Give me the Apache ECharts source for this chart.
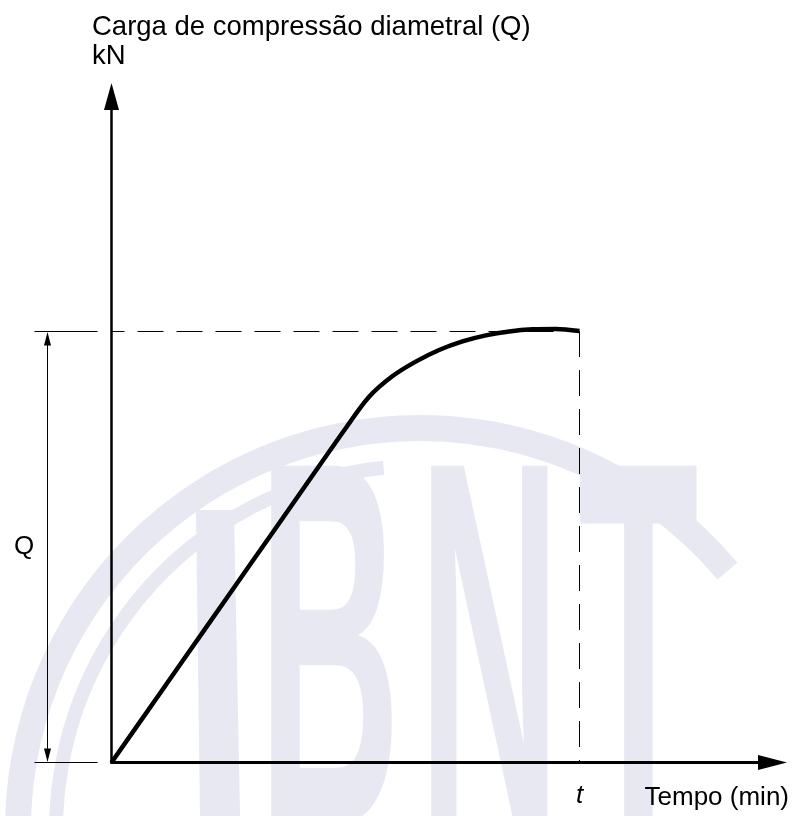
<!DOCTYPE html>
<html>
<head>
<meta charset="utf-8">
<script src="https://cdn.jsdelivr.net/npm/echarts@6/dist/echarts.min.js"></script>
<style>
html,body{margin:0;padding:0;background:#ffffff;}
#c{width:797px;height:816px;}
</style>
</head>
<body>
<div id="c"></div>
<script>
// ---- data (chart units: Q level = 100, t = 10) ----
const timeValues = [0, 1, 2, 3, 4, 5.0, 5.5, 6.0, 6.5, 7.0, 7.5, 8.0, 8.5, 9.0, 9.5, 10];
const loadValues = [0, 15.5, 31, 46.5, 62, 77.5, 84.8, 89.6, 93.0, 95.7, 97.7, 99.1, 100.0, 100.5, 100.6, 100.1];
const qLevel = 100;
const tValue = 10;
const xTickLabels = ['', 't'];          // labels at 0 and at t
const xAxisName = 'Tempo (min)';
const yAxisNameLines = ['Carga de compressão diametral (Q)', 'kN'];
const dimensionLabel = 'Q';
const watermarkLetters = ['B', 'N', 'T'];

const FONT = '"Liberation Sans", Arial, sans-serif';
const WM = '#e8e8f3';

const chart = echarts.init(document.getElementById('c'), null, {renderer: 'canvas'});

const curve = timeValues.map((t, i) => [t, loadValues[i]]);

chart.setOption({
  animation: false,
  backgroundColor: '#ffffff',
  grid: {left: 111.5, right: 24.5, top: 96.5, bottom: 53.5, containLabel: false},
  xAxis: {
    type: 'value', min: 0, max: 14.124, interval: tValue,
    splitLine: {show: false}, axisTick: {show: false},
    axisLine: {show: true, symbol: ['none', 'triangle'], symbolSize: [15, 29],
      lineStyle: {color: '#000', width: 3}},
    axisLabel: {
      show: true, margin: 20, color: '#000', fontSize: 26, fontStyle: 'italic', fontFamily: FONT,
      showMinLabel: true, showMaxLabel: false,
      formatter: v => (v === tValue ? xTickLabels[1] : xTickLabels[0])
    }
  },
  yAxis: {
    type: 'value', min: 0, max: 154.52,
    splitLine: {show: false}, axisTick: {show: false}, axisLabel: {show: false},
    axisLine: {show: true, symbol: ['none', 'triangle'], symbolSize: [15, 27],
      lineStyle: {color: '#000', width: 2.5}}
  },
  series: [
    {
      type: 'line', name: 'Q level', data: [[0, qLevel], [tValue, qLevel]],
      symbol: 'none', silent: true, z: 3,
      lineStyle: {color: '#000', width: 1, type: [26, 13], dashOffset: 13}
    },
    {
      type: 'line', name: 't', data: [[tValue, loadValues[loadValues.length - 1]], [tValue, 0]],
      symbol: 'none', silent: true, z: 3,
      lineStyle: {color: '#000', width: 1, type: [26, 13]}
    },
    {
      type: 'line', name: 'Carga', data: curve, smooth: 0.3,
      symbol: 'none', silent: true, z: 5,
      lineStyle: {color: '#000', width: 4.5, cap: 'butt', join: 'round'}
    }
  ]
});

// annotation pieces derived from the axes' own scales
const p0 = chart.convertToPixel({gridIndex: 0}, [0, 0]);
const pQ = chart.convertToPixel({gridIndex: 0}, [0, qLevel]);
const ox = p0[0], oy = p0[1], qy = pQ[1];
const dimX = ox - 64;

const letterX = [258, 418, 578];
const graphics = [];
// watermark (decoration)
graphics.push({type: 'polygon', z: -10, silent: true,
  shape: {points: [[196, 510], [234, 510], [240, 816], [200, 816]]}, style: {fill: WM}});
watermarkLetters.forEach((ch, i) => {
  graphics.push({type: 'text', z: -10, silent: true, x: letterX[i], y: 420, scaleX: 0.38,
    style: {text: ch, font: 'bold 520px ' + FONT, fill: WM, verticalAlign: 'top'}});
});
graphics.push(
  {type: 'arc', z: -9, silent: true,
    shape: {cx: 420, cy: 830, r: 402, startAngle: Math.PI - 0.2, endAngle: 2 * Math.PI - 0.7},
    style: {stroke: WM, lineWidth: 26, fill: null}},
  {type: 'arc', z: -9, silent: true,
    shape: {cx: 420, cy: 830, r: 364, startAngle: Math.PI - 0.2, endAngle: 1.5 * Math.PI - 0.1},
    style: {stroke: WM, lineWidth: 14, fill: null}}
);
graphics.push(
  // dimension extension lines
  {type: 'line', z: 20, silent: true, shape: {x1: ox - 77, y1: qy, x2: ox - 14, y2: qy}, style: {stroke: '#000', lineWidth: 1}},
  {type: 'line', z: 20, silent: true, shape: {x1: ox - 77, y1: oy, x2: ox - 14, y2: oy}, style: {stroke: '#000', lineWidth: 1}},
  // dimension line with arrowheads
  {type: 'line', z: 20, silent: true, shape: {x1: dimX, y1: qy + 2, x2: dimX, y2: oy - 2}, style: {stroke: '#000', lineWidth: 1}},
  {type: 'polygon', z: 20, silent: true, shape: {points: [[dimX, qy + 0.5], [dimX - 3.5, qy + 14], [dimX + 3.5, qy + 14]]}, style: {fill: '#000'}},
  {type: 'polygon', z: 20, silent: true, shape: {points: [[dimX, oy - 0.5], [dimX - 3.5, oy - 14], [dimX + 3.5, oy - 14]]}, style: {fill: '#000'}},
  {type: 'text', z: 20, silent: true, x: 24, y: (qy + oy) / 2,
    style: {text: dimensionLabel, font: '26px ' + FONT, fill: '#000', align: 'center', verticalAlign: 'middle'}},
  // axis names
  {type: 'text', z: 20, silent: true, x: 789, y: 798,
    style: {text: xAxisName, font: '26px ' + FONT, fill: '#000', align: 'right', verticalAlign: 'middle'}},
  {type: 'text', z: 20, silent: true, x: 92, y: 27,
    style: {text: yAxisNameLines[0], font: '27.5px ' + FONT, fill: '#000', align: 'left', verticalAlign: 'middle'}},
  {type: 'text', z: 20, silent: true, x: 92, y: 56,
    style: {text: yAxisNameLines[1], font: '27.5px ' + FONT, fill: '#000', align: 'left', verticalAlign: 'middle'}}
);
chart.setOption({graphic: {elements: graphics}});
</script>
</body>
</html>
